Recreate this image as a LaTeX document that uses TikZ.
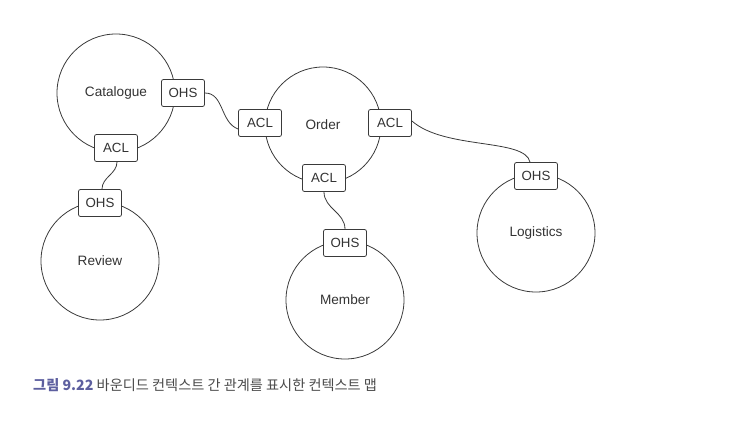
\documentclass[tikz,border=0pt]{standalone}
\usepackage{fontspec}
\setmainfont{Liberation Sans}
\newfontfamily\kofont{Noto Sans CJK KR}
\definecolor{linegray}{HTML}{3A3A3A}
\definecolor{figblue}{HTML}{5D5F9F}
\definecolor{capgray}{HTML}{4A4A4A}
\begin{document}
\begin{tikzpicture}[x=1pt, y=-1pt,
        context/.style={circle, draw=linegray, line width=0.8pt, minimum size=118pt, inner sep=0pt, font=\fontsize{13.6}{15}\selectfont, text=black!80},
        pattern/.style={draw=linegray, line width=0.8pt, fill=white, rounded corners=2pt, minimum width=43pt, minimum height=27pt, inner sep=0pt, font=\fontsize{13.3}{15}\selectfont, text=black!80},
        link/.style={draw=linegray, line width=0.8pt}]
    \useasboundingbox (0,0) rectangle (752,422);

    % bounded contexts
    \node[context] (catalogue) at (116,93) {Catalogue};
    \node[context] (review) at (100,261) {Review};
    \node[context, minimum size=116pt] (order) at (323,125) {Order};
    \node[context] (member) at (345,300) {Member};
    \node[context] (logistics) at (536,233) {Logistics};

    % OHS / ACL boxes on the borders
    \node[pattern] (catOHS) at (183,93) {OHS};
    \node[pattern] (catACL) at (116,148) {ACL};
    \node[pattern] (revOHS) at (100,203) {OHS};
    \node[pattern] (ordLACL) at (260,123) {ACL};
    \node[pattern] (ordRACL) at (390,123) {ACL};
    \node[pattern] (ordBACL) at (324,178) {ACL};
    \node[pattern] (memOHS) at (345,243) {OHS};
    \node[pattern] (logOHS) at (536,176) {OHS};

    % relations
    \draw[link] (catOHS.east) to[out=0, in=160] ([yshift=-6pt]ordLACL.west);
    \draw[link] ([xshift=1pt]catACL.south) to[out=-90, in=90] ([xshift=2pt]revOHS.north);
    \draw[link] (ordBACL.south) to[out=-90, in=90] (memOHS.north);
    \draw[link] ([yshift=2pt]ordRACL.east) .. controls (445,150) and (525,138) .. ([xshift=-6pt]logOHS.north);

    % caption
    \node[anchor=west, inner sep=0pt, font=\kofont\fontsize{14.2}{16}\selectfont] (caption) at (33,385)
        {\textcolor{figblue}{\bfseries 그림 9.22} \textcolor{capgray}{바운디드 컨텍스트 간 관계를 표시한 컨텍스트 맵}};
\end{tikzpicture}
\end{document}
